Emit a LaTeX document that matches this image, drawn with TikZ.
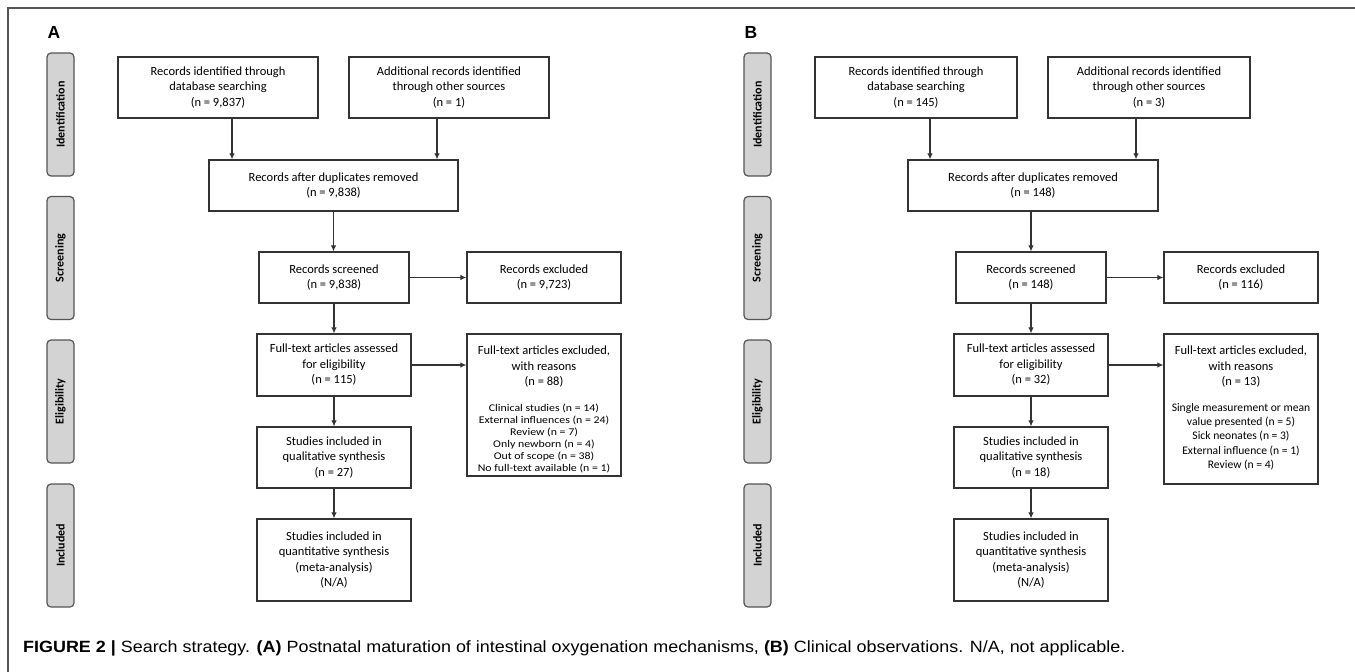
\documentclass[tikz,border=0pt]{standalone}
\usepackage{fontspec}
\setmainfont{Carlito}
\newfontfamily\capfont{Liberation Sans}[FakeStretch=1.1]
\newfontfamily\letfont{Liberation Sans}
\newfontfamily\rsnfont{Carlito}[FakeStretch=1.15]
\usetikzlibrary{arrows.meta}
\definecolor{boxc}{HTML}{333333}
\definecolor{phc}{HTML}{555555}
\definecolor{phfill}{HTML}{D3D3D3}
\definecolor{framec}{HTML}{555555}
\begin{document}
\begin{tikzpicture}[x=1pt,y=-1pt,
  box/.style={draw=boxc, line width=1.2pt, align=center, inner sep=0pt, font=\fontsize{12.5}{15.5}\selectfont},
  lower/.style={execute at begin node={\rule{0pt}{15pt}}},
  txt/.style={align=center, inner sep=0pt, font=\fontsize{12.5}{15.5}\selectfont},
  rsn/.style={align=center, inner sep=0pt, font=\rsnfont\fontsize{10.3}{12.1}\selectfont},
  rsnb/.style={align=center, inner sep=0pt, font=\fontsize{11.6}{14.3}\selectfont},
  phase/.style={draw=phc, fill=phfill, rounded corners=4pt, line width=1.2pt, rotate=90,
    minimum width=123pt, minimum height=27pt, inner sep=0pt, font=\bfseries\fontsize{12}{14}\selectfont},
  plet/.style={inner sep=0pt, font=\letfont\bfseries\fontsize{17.5}{17.5}\selectfont},
  arr/.style={-{Latex[length=6pt,width=5.5pt]}, line width=1.1pt, draw=boxc}]
\fill[white] (0,0) rectangle (1355,672);
\useasboundingbox (0,0) rectangle (1355,672);
\draw[framec, line width=1.6pt] (8,672) -- (8,8) -- (1355,8);

% ---------------- Panel A ----------------
\node[plet] (labA) at (54,32) {A};
\node[phase] (idA) at (60.5,114.5) {Identification};
\node[phase] (scA) at (60.5,258) {Screening};
\node[phase] (elA) at (60.5,401.5) {Eligibility};
\node[phase] (inA) at (60.5,545.5) {Included};

\node[box, lower, minimum width=200pt, minimum height=61pt] (dbA) at (218,87.5) {Records identified through\\database searching\\(n = 9,837)};
\node[box, lower, minimum width=200pt, minimum height=61pt] (otA) at (449,87.5) {Additional records identified\\through other sources\\(n = 1)};
\node[box, minimum width=249pt, minimum height=51pt] (dupA) at (333.5,185.5) {Records after duplicates removed\\(n = 9,838)};
\node[box, minimum width=150pt, minimum height=51pt] (scrA) at (334,277.5) {Records screened\\(n = 9,838)};
\node[box, minimum width=154pt, minimum height=51pt] (exA) at (544,277.5) {Records excluded\\(n = 9,723)};
\node[box, lower, minimum width=154pt, minimum height=62pt] (ftA) at (334,365) {Full-text articles assessed\\for eligibility\\(n = 115)};
\node[box, minimum width=154pt, minimum height=142pt] (fxA) at (544,405) {};
\node[txt] (fxAh) at (544,367) {Full-text articles excluded,\\with reasons\\(n = 88)};
\node[rsn] (fxAr) at (544,438.5) {Clinical studies (n = 14)\\External influences (n = 24)\\Review (n = 7)\\Only newborn (n = 4)\\Out of scope (n = 38)\\No full-text available (n = 1)};
\node[box, lower, minimum width=154pt, minimum height=61pt] (qlA) at (334,457.5) {Studies included in\\qualitative synthesis\\(n = 27)};
\node[box, minimum width=154pt, minimum height=82pt] (qnA) at (334,560) {Studies included in\\quantitative synthesis\\(meta-analysis)\\(N/A)};

\draw[arr] ([xshift=14pt]dbA.south) -- ([xshift=14pt]dbA.south |- dupA.north);
\draw[arr] ([xshift=-12pt]otA.south) -- ([xshift=-12pt]otA.south |- dupA.north);
\draw[arr] (dupA.south) -- (dupA.south |- scrA.north);
\draw[arr] (scrA.east) -- (exA.west);
\draw[arr] (scrA.south) -- (ftA.north);
\draw[arr] (ftA.east) -- (ftA.east -| fxA.west);
\draw[arr] (ftA.south) -- (qlA.north);
\draw[arr] (qlA.south) -- (qnA.north);

% ---------------- Panel B ----------------
\begin{scope}[xshift=697pt]
\node[plet] (labB) at (54,32) {B};
\node[phase] (idB) at (60.5,114.5) {Identification};
\node[phase] (scB) at (60.5,258) {Screening};
\node[phase] (elB) at (60.5,401.5) {Eligibility};
\node[phase] (inB) at (60.5,545.5) {Included};

\node[box, lower, minimum width=202pt, minimum height=61pt] (dbB) at (219,87.5) {Records identified through\\database searching\\(n = 145)};
\node[box, lower, minimum width=202pt, minimum height=61pt] (otB) at (452,87.5) {Additional records identified\\through other sources\\(n = 3)};
\node[box, minimum width=250pt, minimum height=51pt] (dupB) at (336,185.5) {Records after duplicates removed\\(n = 148)};
\node[box, minimum width=150pt, minimum height=51pt] (scrB) at (334,277.5) {Records screened\\(n = 148)};
\node[box, minimum width=154pt, minimum height=51pt] (exB) at (544,277.5) {Records excluded\\(n = 116)};
\node[box, lower, minimum width=154pt, minimum height=62pt] (ftB) at (334,365) {Full-text articles assessed\\for eligibility\\(n = 32)};
\node[box, minimum width=154pt, minimum height=150pt] (fxB) at (544,409) {};
\node[txt] (fxBh) at (544,367) {Full-text articles excluded,\\with reasons\\(n = 13)};
\node[rsnb] (fxBr) at (544,436.5) {Single measurement or mean\\value presented (n = 5)\\Sick neonates (n = 3)\\External influence (n = 1)\\Review (n = 4)};
\node[box, lower, minimum width=154pt, minimum height=61pt] (qlB) at (334,457.5) {Studies included in\\qualitative synthesis\\(n = 18)};
\node[box, minimum width=154pt, minimum height=82pt] (qnB) at (334,560) {Studies included in\\quantitative synthesis\\(meta-analysis)\\(N/A)};

\draw[arr] ([xshift=14pt]dbB.south) -- ([xshift=14pt]dbB.south |- dupB.north);
\draw[arr] ([xshift=-13pt]otB.south) -- ([xshift=-13pt]otB.south |- dupB.north);
\draw[arr] (scrB.north |- dupB.south) -- (scrB.north);
\draw[arr] (scrB.east) -- (exB.west);
\draw[arr] (scrB.south) -- (ftB.north);
\draw[arr] (ftB.east) -- (ftB.east -| fxB.west);
\draw[arr] (ftB.south) -- (qlB.north);
\draw[arr] (qlB.south) -- (qnB.north);
\end{scope}

% ---------------- Caption ----------------
\node[anchor=west, inner sep=0pt, font=\capfont\fontsize{16.3}{18}\selectfont] (cap) at (23,648)
  {\textbf{FIGURE 2 |} Search strategy. \textbf{(A)} Postnatal maturation of intestinal oxygenation mechanisms, \textbf{(B)} Clinical observations. N/A, not applicable.};
\end{tikzpicture}
\end{document}
